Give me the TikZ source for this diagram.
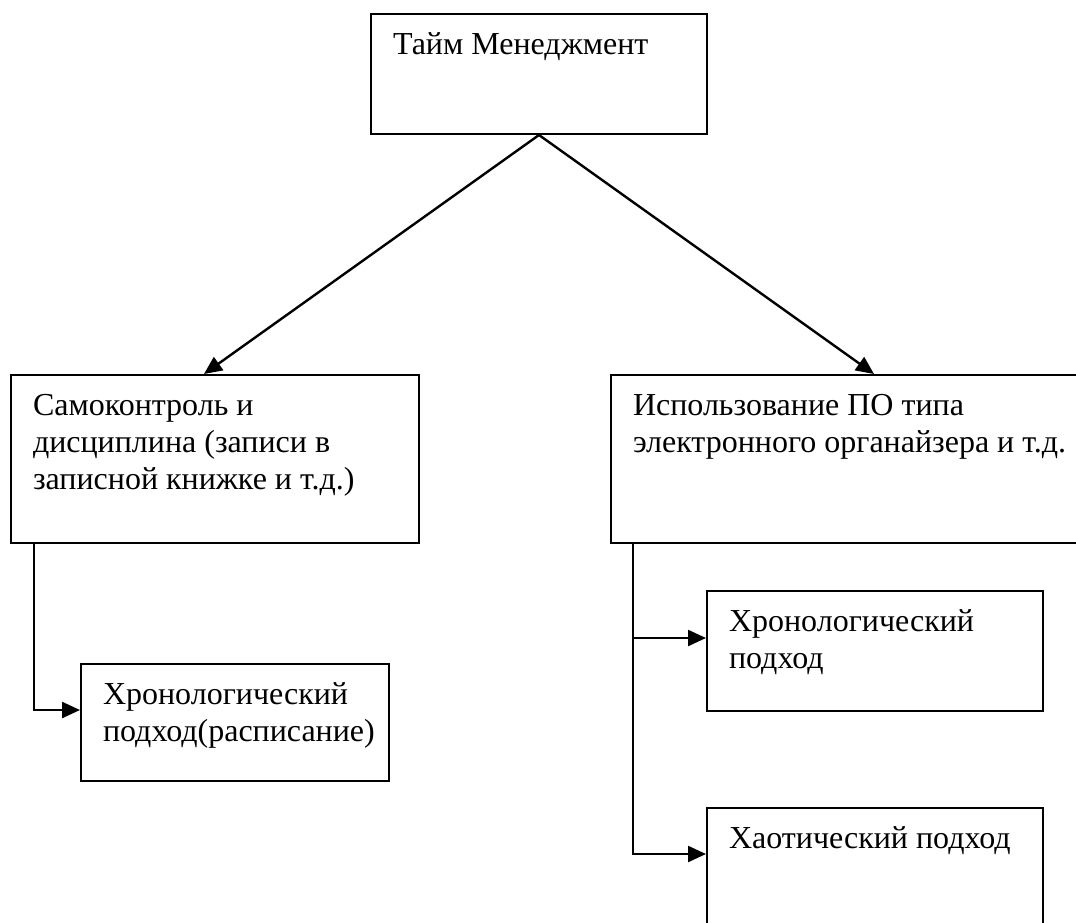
\documentclass[tikz,border=0pt]{standalone}
\usepackage{fontspec}
\setmainfont{Liberation Serif}
\usetikzlibrary{arrows.meta,calc,positioning}

\newdimen\pxu \pxu=0.5pt
% box text: width, height (in px), text
\newcommand{\cellbox}[3]{\parbox[c][#2\pxu][t]{#1\pxu}{\raggedright\leftskip=11pt\relax\rule{0pt}{20pt}#3}}

\tikzset{
    block/.style={draw, line width=1pt, inner sep=0pt, anchor=north west, font=\fontsize{16pt}{18.5pt}\selectfont},
    arr/.style={line width=1.2pt, -{Triangle[length=9pt,width=8pt]}}
}

\begin{document}
\begin{tikzpicture}[x=0.5pt,y=-0.5pt]
        \useasboundingbox (0,0) rectangle (1076,922);
        \clip (0,0) rectangle (1076,922);

        % Top
        \node[block] (tm) at (370,13) {\cellbox{336}{120}{Тайм Менеджмент}};

        % Second level
        \node[block] (self) at (10,374) {\cellbox{408}{168}{Самоконтроль и\\ дисциплина (записи в\\ записной книжке и т.д.)}};
        \node[block] (soft) at (610,374) {\cellbox{472}{168}{Использование ПО типа\\ электронного органайзера и т.д.}};

        % Third level
        \node[block] (chron1) at (80,663) {\cellbox{308}{117}{Хронологический\\ подход(расписание)}};
        \node[block] (chron2) at (706,590) {\cellbox{336}{120}{Хронологический\\ подход}};
        \node[block] (chaos) at (706,807) {\cellbox{336}{125}{Хаотический подход}};

        % Arrows from top
        \draw[arr] (tm.south) -- ($(self.north)+(-11,0)$);
        \draw[arr] (tm.south) -- ($(soft.north)+(27,0)$);

        % Left branch
        \coordinate (ltrunk) at ($(self.south west)+(24,0)$);
        \coordinate (chron1in) at ($(chron1.north west)+(0,47)$);
        \draw[arr] (ltrunk) |- (chron1in);

        % Right branch
        \coordinate (rtrunk) at ($(soft.south west)+(23,0)$);
        \coordinate (chron2in) at ($(chron2.north west)+(0,48)$);
        \coordinate (chaosin) at ($(chaos.north west)+(0,47)$);
        \draw[arr] (rtrunk) |- (chron2in);
        \draw[arr] (rtrunk) |- (chaosin);

    \end{tikzpicture}
\end{document}
